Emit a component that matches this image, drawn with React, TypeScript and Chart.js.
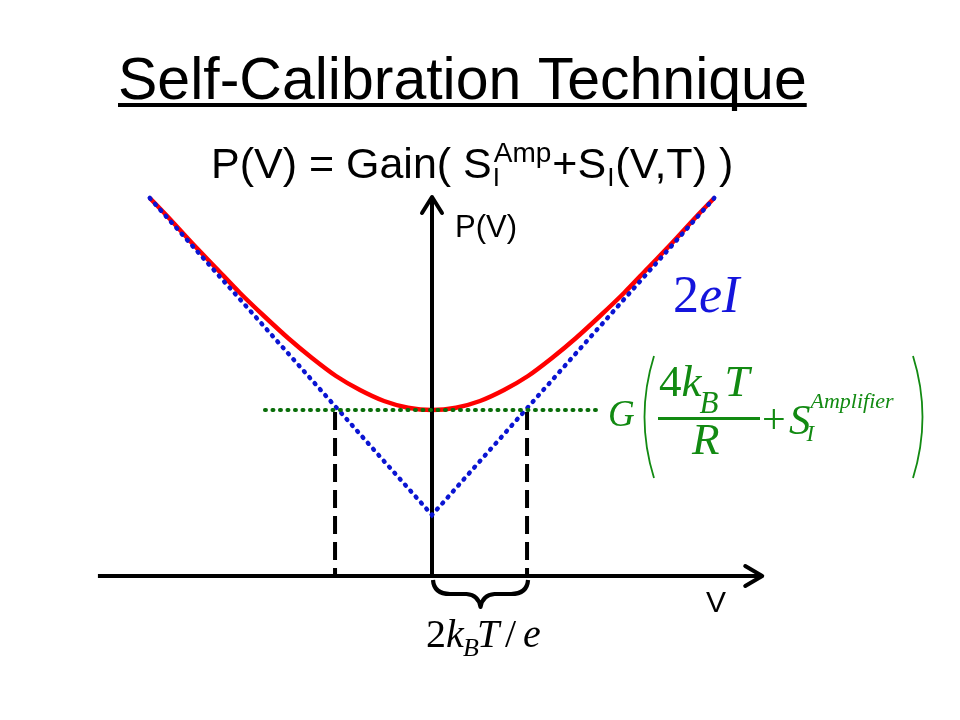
import React, { useEffect, useRef } from "react";
import { Chart, registerables } from "chart.js";

Chart.register(...registerables);

// ---- data (V in units of 2kT/e-ish, P in arbitrary units) ----
const voltage = [-2.94, -2.75, -2.5, -2.25, -2, -1.75, -1.5, -1.25, -1, -0.75, -0.5, -0.25, 0, 0.25, 0.5, 0.75, 1, 1.25, 1.5, 1.75, 2, 2.25, 2.5, 2.75, 2.94];
const totalNoise = [3.78, 3.59, 3.33, 3.08, 2.83, 2.6, 2.38, 2.18, 2.0, 1.86, 1.75, 1.683, 1.66, 1.683, 1.75, 1.86, 2.0, 2.18, 2.38, 2.6, 2.83, 3.08, 3.33, 3.59, 3.78];
const shotVoltage = [-2.94, 0, 2.94];
const shotNoise = [3.78, 0.61, 3.78];
const thermalVoltage = [-1.74, 1.75];
const thermalNoise = [1.66, 1.66];
const leftEdgeVoltage = [-1.01, -1.01];
const rightEdgeVoltage = [0.99, 0.99];
const edgeNoise = [1.64, 0];
const xAxisVoltage = [-3.48, 3.44];
const xAxisPower = [0, 0];
const yAxisVoltage = [0, 0];
const yAxisPower = [0, 3.79];

const titleText = "Self-Calibration Technique";
const yLabel = "P(V)";
const xLabel = "V";

const SANS = "'Liberation Sans', Arial, sans-serif";
const SERIF = "'Liberation Serif', 'Times New Roman', serif";

const pts = (xs: number[], ys: number[]) => xs.map((x, i) => ({ x, y: ys[i] }));

function txt(ctx: CanvasRenderingContext2D, s: string, x: number, y: number, font: string, color: string) {
  ctx.font = font;
  ctx.fillStyle = color;
  ctx.fillText(s, x, y);
  return ctx.measureText(s).width;
}

const decorPlugin = {
  id: "decor",
  afterDatasetsDraw(chart: any) {
    const ctx: CanvasRenderingContext2D = chart.ctx;
    const xs = chart.scales.x;
    const ys = chart.scales.y;
    ctx.save();
    ctx.textBaseline = "alphabetic";
    ctx.textAlign = "left";

    // arrowheads
    ctx.strokeStyle = "#000";
    ctx.lineWidth = 4;
    ctx.lineCap = "round";
    ctx.lineJoin = "round";
    const tx = xs.getPixelForValue(xAxisVoltage[1]);
    const ty = ys.getPixelForValue(0);
    ctx.beginPath();
    ctx.moveTo(tx - 17, ty - 10);
    ctx.lineTo(tx, ty);
    ctx.lineTo(tx - 17, ty + 10);
    ctx.stroke();
    const ux = xs.getPixelForValue(0);
    const uy = ys.getPixelForValue(yAxisPower[1]);
    ctx.beginPath();
    ctx.moveTo(ux - 10, uy + 16);
    ctx.lineTo(ux, uy);
    ctx.lineTo(ux + 10, uy + 16);
    ctx.stroke();

    // brace under the x axis between the two edges
    const bx0 = xs.getPixelForValue(0) + 1;
    const bx1 = xs.getPixelForValue(rightEdgeVoltage[0]) + 1;
    const by = ys.getPixelForValue(0) + 4;
    const bm = (bx0 + bx1) / 2;
    ctx.lineWidth = 4.2;
    ctx.lineCap = "butt";
    ctx.beginPath();
    ctx.moveTo(bx0, by);
    ctx.quadraticCurveTo(bx0 + 1, by + 14, bx0 + 17, by + 14);
    ctx.lineTo(bm - 14, by + 14);
    ctx.quadraticCurveTo(bm - 2, by + 15, bm, by + 27);
    ctx.quadraticCurveTo(bm + 2, by + 15, bm + 14, by + 14);
    ctx.lineTo(bx1 - 17, by + 14);
    ctx.quadraticCurveTo(bx1 - 1, by + 14, bx1, by);
    ctx.stroke();

    // title
    const tw = txt(ctx, titleText, 118, 99, `59px ${SANS}`, "#000");
    ctx.fillStyle = "#000";
    ctx.fillRect(118, 103, tw, 4);

    // subtitle P(V) = Gain( S_I^Amp + S_I(V,T) )
    let x = 211;
    const by2 = 178;
    x += txt(ctx, "P(V) = Gain( S", x, by2, `43px ${SANS}`, "#000");
    const wi = txt(ctx, "I", x + 1, by2 + 8, `26px ${SANS}`, "#000");
    const wa = txt(ctx, "Amp", x + 2, by2 - 16, `28px ${SANS}`, "#000");
    x += Math.max(wi, wa) + 3;
    x += txt(ctx, "+S", x, by2, `43px ${SANS}`, "#000");
    x += txt(ctx, "I", x + 1, by2 + 8, `26px ${SANS}`, "#000") + 2;
    txt(ctx, "(V,T) )", x, by2, `43px ${SANS}`, "#000");

    // axis labels
    txt(ctx, yLabel, 455, 237, `31px ${SANS}`, "#000");
    txt(ctx, xLabel, 706, 612, `30px ${SANS}`, "#000");

    // 2eI (blue)
    const blue = "#1414dc";
    let bx = 673;
    bx += txt(ctx, "2", bx, 312, `52px ${SERIF}`, blue);
    bx += txt(ctx, "e", bx, 312, `italic 52px ${SERIF}`, blue);
    txt(ctx, "I", bx, 312, `italic 52px ${SERIF}`, blue);

    // green formula G( 4k_B T / R + S_I^Amplifier )
    const green = "#128a12";
    txt(ctx, "G", 608, 426, `italic 37px ${SERIF}`, green);
    ctx.strokeStyle = green;
    ctx.lineWidth = 1.8;
    ctx.beginPath();
    ctx.moveTo(654, 356);
    ctx.quadraticCurveTo(635, 417, 654, 478);
    ctx.stroke();
    ctx.beginPath();
    ctx.moveTo(913, 356);
    ctx.quadraticCurveTo(932, 417, 913, 478);
    ctx.stroke();
    let gx = 659;
    gx += txt(ctx, "4", gx, 396, `45px ${SERIF}`, green);
    gx += txt(ctx, "k", gx, 396, `italic 45px ${SERIF}`, green);
    gx += txt(ctx, "B", gx - 2, 413, `italic 31px ${SERIF}`, green);
    txt(ctx, "T", gx + 4, 396, `italic 45px ${SERIF}`, green);
    ctx.fillStyle = green;
    ctx.fillRect(658, 417, 102, 3);
    txt(ctx, "R", 692, 454, `italic 45px ${SERIF}`, green);
    txt(ctx, "+", 762, 433, `42px ${SERIF}`, green);
    const sw = txt(ctx, "S", 789, 434, `italic 43px ${SERIF}`, green);
    txt(ctx, "I", 789 + sw - 4, 441, `italic 23px ${SERIF}`, green);
    txt(ctx, "Amplifier", 789 + sw, 408, `italic 22px ${SERIF}`, green);

    // 2k_B T / e (black)
    const kb = 647;
    txt(ctx, "2", 426, kb, `40px ${SERIF}`, "#000");
    txt(ctx, "k", 446, kb, `italic 40px ${SERIF}`, "#000");
    txt(ctx, "B", 463, kb + 9, `italic 26px ${SERIF}`, "#000");
    txt(ctx, "T", 477, kb, `italic 40px ${SERIF}`, "#000");
    txt(ctx, "/", 505, kb, `40px ${SERIF}`, "#000");
    txt(ctx, "e", 523, kb, `italic 40px ${SERIF}`, "#000");

    ctx.restore();
  },
};

export default function App() {
  const ref = useRef<HTMLCanvasElement | null>(null);
  useEffect(() => {
    if (!ref.current) return;
    const common = { pointRadius: 0, showLine: true, fill: false, clip: false as any };
    const chart = new Chart(ref.current, {
      type: "scatter",
      data: {
        datasets: [
          { ...common, label: "thermal + amplifier", data: pts(thermalVoltage, thermalNoise), borderColor: "#0a6e0a", borderWidth: 4, borderDash: [1, 6.5], borderCapStyle: "round", order: 1 },
          { ...common, label: "edge left", data: pts(leftEdgeVoltage, edgeNoise), borderColor: "#000", borderWidth: 4, borderDash: [18, 8], order: 2 },
          { ...common, label: "edge right", data: pts(rightEdgeVoltage, edgeNoise), borderColor: "#000", borderWidth: 4, borderDash: [18, 8], order: 2 },
          { ...common, label: "shot noise 2eI", data: pts(shotVoltage, shotNoise), borderColor: "#0a14d2", borderWidth: 4.5, borderDash: [1, 7], borderCapStyle: "round", order: 3 },
          { ...common, label: "x axis", data: pts(xAxisVoltage, xAxisPower), borderColor: "#000", borderWidth: 4, order: 4 },
          { ...common, label: "y axis", data: pts(yAxisVoltage, yAxisPower), borderColor: "#000", borderWidth: 4, order: 4 },
          { ...common, label: "P(V)", data: pts(voltage, totalNoise), borderColor: "#ff0000", borderWidth: 4.5, cubicInterpolationMode: "monotone", order: 5 },
        ] as any,
      },
      options: {
        animation: false,
        responsive: false,
        devicePixelRatio: 1,
        layout: { padding: 0 },
        plugins: { legend: { display: false }, tooltip: { enabled: false }, title: { display: false } },
        events: [],
        scales: {
          x: { type: "linear", display: false, min: -4.5, max: 5.5 },
          y: { type: "linear", display: false, min: -1.44, max: 5.76 },
        },
      },
      plugins: [decorPlugin],
    });
    return () => chart.destroy();
  }, []);
  return (
    <div style={{ position: "absolute", left: 0, top: 0, width: 960, height: 720, background: "#fff" }}>
      <canvas ref={ref} width={960} height={720} style={{ width: 960, height: 720, display: "block" }} />
    </div>
  );
}
